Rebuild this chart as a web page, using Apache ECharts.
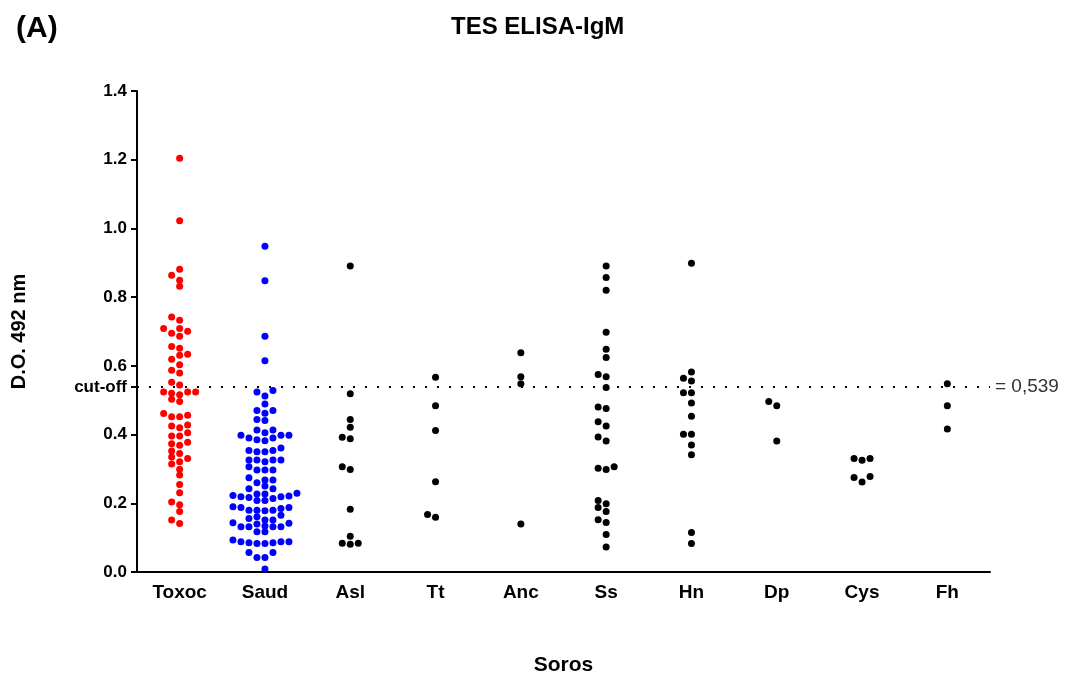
<!DOCTYPE html>
<html>
<head>
<meta charset="utf-8">
<script src="https://cdn.jsdelivr.net/npm/echarts@6.0.0/dist/echarts.min.js"></script>
<style>
  html, body { margin: 0; padding: 0; background: #fff; overflow: hidden; }
  #chart { width: 1067px; height: 678px; }
</style>
</head>
<body>
<div id="chart"></div>
<script>
// categories and values (D.O. 492 nm)
const categories = ['Toxoc', 'Saud', 'Asl', 'Tt', 'Anc', 'Ss', 'Hn', 'Dp', 'Cys', 'Fh']
const yTicks = [0, 0.2, 0.4, 0.6, 0.8, 1.0, 1.2, 1.4]
const cutoff = 0.539

const toxoc = [1.204, 1.022, 0.881, 0.864, 0.849, 0.832, 0.742, 0.733, 0.709, 0.701, 0.709, 0.695, 0.686,
  0.656, 0.651, 0.634, 0.631, 0.619, 0.603, 0.587, 0.579, 0.552, 0.544, 0.524, 0.516, 0.524, 0.524, 0.520,
  0.503, 0.496, 0.461, 0.452, 0.452, 0.456, 0.425, 0.428, 0.420, 0.405, 0.396, 0.396, 0.373, 0.378, 0.369,
  0.352, 0.345, 0.330, 0.335, 0.321, 0.314, 0.299, 0.282, 0.255, 0.231, 0.204, 0.196, 0.176, 0.151, 0.141]
const saud = [0.948, 0.848, 0.686, 0.615, 0.528, 0.524, 0.512, 0.489, 0.470, 0.462, 0.470, 0.441, 0.444,
  0.413, 0.413, 0.405, 0.398, 0.398, 0.390, 0.382, 0.390, 0.385, 0.398, 0.361, 0.354, 0.350, 0.350, 0.354,
  0.326, 0.326, 0.321, 0.326, 0.326, 0.306, 0.297, 0.297, 0.297, 0.274, 0.268, 0.268, 0.260, 0.250, 0.242,
  0.242, 0.229, 0.227, 0.219, 0.217, 0.223, 0.221, 0.227, 0.219, 0.214, 0.208, 0.208, 0.188, 0.180, 0.165,
  0.185, 0.190, 0.178, 0.180, 0.180, 0.188, 0.161, 0.156, 0.151, 0.142, 0.140, 0.143, 0.151, 0.132, 0.132,
  0.117, 0.117, 0.132, 0.132, 0.134, 0.088, 0.088, 0.093, 0.085, 0.083, 0.085, 0.083, 0.088, 0.057, 0.057,
  0.042, 0.042, 0.009]
const asl = [0.891, 0.519, 0.444, 0.421, 0.388, 0.392, 0.306, 0.298, 0.183, 0.104, 0.084, 0.081, 0.084]
const tt = [0.567, 0.484, 0.412, 0.263, 0.159, 0.167]
const anc = [0.638, 0.568, 0.548, 0.140]
const ss = [0.891, 0.857, 0.820, 0.698, 0.648, 0.624, 0.568, 0.575, 0.537, 0.476, 0.480, 0.437, 0.425,
  0.381, 0.393, 0.302, 0.298, 0.306, 0.188, 0.199, 0.208, 0.176, 0.144, 0.152, 0.109, 0.073]
const hn = [0.899, 0.582, 0.556, 0.564, 0.522, 0.522, 0.492, 0.453, 0.401, 0.401, 0.370, 0.341, 0.115, 0.083]
const dp = [0.496, 0.484, 0.381]
const cys = [0.330, 0.325, 0.330, 0.278, 0.262, 0.275]
const fh = [0.548, 0.484, 0.416]

const groups = [toxoc, saud, asl, tt, anc, ss, hn, dp, cys, fh]
const groupColors = ['#ff0000', '#0000ff', '#000', '#000', '#000', '#000', '#000', '#000', '#000', '#000']

const font = 'Liberation Sans, Arial, sans-serif'
const gridTop = 91
const plotHeight = 481

// simple column beeswarm, like the prism dot plot: points that would overlap go to side columns
function swarm (values) {
  const pxPerUnit = plotHeight / 1.4
  const step = 8
  const minGap = 5.8
  const order = values.map((v, i) => ({ v, i })).sort((a, b) => a.v - b.v)
  const placed = []
  const offs = new Array(values.length)
  order.forEach(p => {
    const y = p.v * pxPerUnit
    for (let k = 0; k < 40; k++) {
      const col = k === 0 ? 0 : (k % 2 ? -Math.ceil(k / 2) : Math.ceil(k / 2))
      if (!placed.some(q => q.col === col && Math.abs(q.y - y) < minGap)) {
        placed.push({ col, y })
        offs[p.i] = col * step
        break
      }
    }
  })
  return offs
}

const series = groups.map((vals, gi) => {
  const offs = swarm(vals)
  return {
    name: categories[gi],
    type: 'scatter',
    symbolSize: 7,
    itemStyle: { color: groupColors[gi], opacity: 1 },
    data: vals.map((v, i) => ({ value: [gi, v], symbolOffset: [offs[i], 0] })),
    z: 3
  }
})

series[0].markLine = {
  silent: true,
  symbol: 'none',
  lineStyle: { color: '#000', width: 2, type: [2, 10] },
  label: {
    show: true,
    position: 'end',
    formatter: '= 0,539',
    color: '#333',
    fontSize: 19,
    fontFamily: font,
    distance: 5
  },
  data: [{ yAxis: cutoff }]
}

const yMarks = yTicks.concat([cutoff])

const myChart = echarts.init(document.getElementById('chart'))
myChart.setOption({
  animation: false,
  title: [
    {
      text: 'TES ELISA-IgM',
      left: 446,
      top: 10,
      textStyle: { fontSize: 24, fontWeight: 'bold', color: '#000', fontFamily: font }
    },
    {
      text: '(A)',
      left: 11,
      top: 9,
      textStyle: { fontSize: 30, fontWeight: 'bold', color: '#000', fontFamily: font }
    }
  ],
  grid: {
    left: 137,
    width: 853,
    top: gridTop,
    height: plotHeight,
    outerBoundsMode: 'none'
  },
  xAxis: {
    type: 'category',
    data: categories,
    boundaryGap: true,
    name: 'Soros',
    nameLocation: 'middle',
    nameGap: 83,
    nameTextStyle: { fontSize: 21, fontWeight: 'bold', color: '#000', fontFamily: font },
    axisLine: { lineStyle: { color: '#000', width: 2 } },
    axisTick: { alignWithLabel: true, length: 6, lineStyle: { color: '#000', width: 2 } },
    axisLabel: { fontSize: 19, fontWeight: 'bold', color: '#000', fontFamily: font, margin: 11 },
    splitLine: { show: false }
  },
  yAxis: {
    type: 'value',
    min: 0,
    max: 1.4,
    interval: 0.2,
    name: 'D.O. 492 nm',
    nameLocation: 'middle',
    nameGap: 108,
    nameTextStyle: { fontSize: 20, fontWeight: 'bold', color: '#000', fontFamily: font },
    axisLine: { show: true, lineStyle: { color: '#000', width: 2 } },
    axisTick: { show: true, length: 6, customValues: yMarks, lineStyle: { color: '#000', width: 2 } },
    axisLabel: {
      customValues: yMarks,
      fontSize: 17,
      fontWeight: 'bold',
      color: '#000',
      fontFamily: font,
      margin: 10,
      formatter: v => (Math.abs(v - cutoff) < 1e-6 ? 'cut-off' : v.toFixed(1))
    },
    splitLine: { show: false }
  },
  series: series
})
</script>
</body>
</html>
